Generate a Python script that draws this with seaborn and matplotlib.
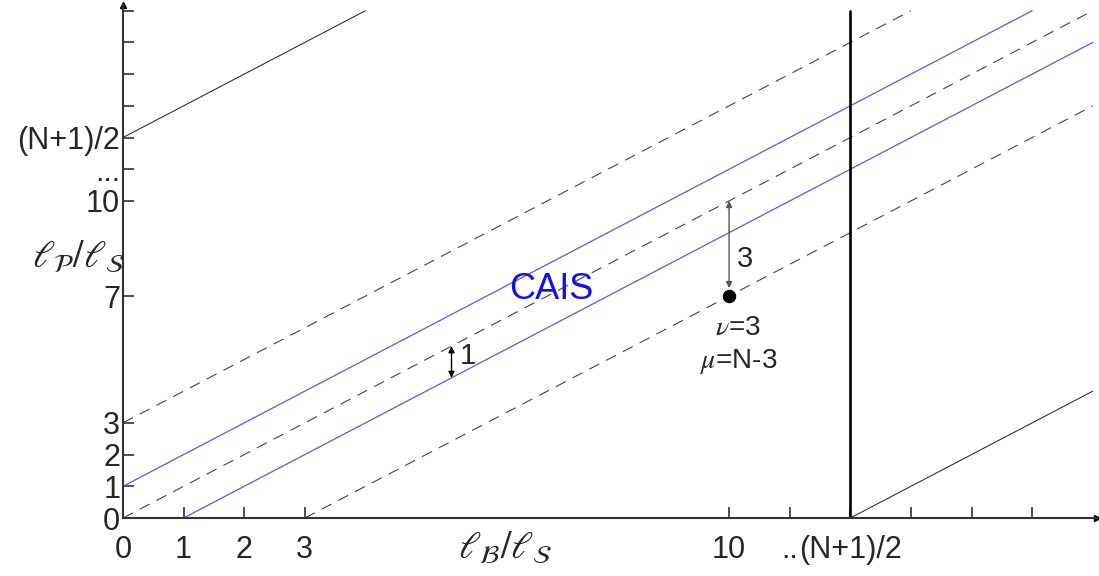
import numpy as np
import pandas as pd
import matplotlib
matplotlib.use("Agg")
import matplotlib.pyplot as plt
import seaborn as sns

# ===============================
# DATA
# ===============================
# lines y = x + offset, drawn between x_start and x_end
line_offset = [1, -1, 3, 0, -3, 12, -12]
line_x_start = [0, 1, 0, 0, 3, 0, 12]
line_x_end = [15, 16, 13, 16, 16, 4, 16]
line_kind = ["cais", "cais", "dash", "dash", "dash", "edge", "edge"]

half_n = 12          # (N+1)/2
axis_max = 16

point_x = [10]
point_y = [7]

x_ticks = [0, 1, 2, 3, 10, 11, 12, 13, 14, 15]
x_tick_labels = ["0", "1", "2", "3", "10", "..", "(N+1)/2", "", "", ""]
y_ticks = [0, 1, 2, 3, 7, 10, 11, 12, 13, 14, 15, 16]
y_tick_labels = ["0", "1", "2", "3", "7", "10", "...", "(N+1)/2", "", "", "", ""]

arrow3_x, arrow3_from, arrow3_to = 10, 10, 7.25
arrow1_x = 5.42

# ===============================
# STYLE
# ===============================
sns.set_style("white")
plt.rcParams["font.family"] = ["Liberation Sans", "DejaVu Sans"]
plt.rcParams["mathtext.fontset"] = "stix"

styles = {
    "cais": dict(color="#5a5ae6", lw=0.9, ls="-"),
    "dash": dict(color="#444444", lw=0.8, ls=(0, (10, 7))),
    "edge": dict(color="#333333", lw=0.8, ls="-"),
}

fig = plt.figure(figsize=(10.99, 5.76), dpi=100)
ax = fig.add_axes([123 / 1099, 58 / 576, 974 / 1099, 513 / 576])

rows = []
for i, (c, x0, x1, k) in enumerate(zip(line_offset, line_x_start, line_x_end, line_kind)):
    rows.append(dict(line=i, x=x0, y=x0 + c, kind=k))
    rows.append(dict(line=i, x=x1, y=x1 + c, kind=k))
df = pd.DataFrame(rows)

for i, sub in df.groupby("line"):
    st = styles[sub["kind"].iloc[0]]
    sns.lineplot(data=sub, x="x", y="y", ax=ax, color=st["color"], estimator=None,
                 linewidth=st["lw"], linestyle=st["ls"], clip_on=False)

# vertical line at (N+1)/2
sns.lineplot(x=[half_n, half_n], y=[0, axis_max], ax=ax, color="black", linewidth=1.9,
             estimator=None, sort=False)

sns.scatterplot(x=point_x, y=point_y, ax=ax, color="black", s=80, zorder=5, edgecolor="black")

ax.set_xlim(0, 16.07)
ax.set_ylim(0, 16.18)

ax.set_xticks(x_ticks)
ax.set_xticklabels(x_tick_labels, fontsize=22)
ax.set_yticks(y_ticks)
ax.set_yticklabels(y_tick_labels, fontsize=22)
ax.tick_params(axis="both", direction="in", length=8, width=1.2, color="#333333",
               bottom=True, left=True)
ax.tick_params(axis="x", pad=12)
ax.tick_params(axis="y", pad=2)
ax.set_xlabel("")
ax.set_ylabel("")

for s in ["top", "right"]:
    ax.spines[s].set_visible(False)
for s in ["left", "bottom"]:
    ax.spines[s].set_color("#333333")
    ax.spines[s].set_linewidth(1.5)

# axis arrow heads
ax.plot(1, 0, ">", color="black", ms=5, transform=ax.transAxes, clip_on=False)
ax.plot(0, 1, "^", color="black", ms=5, transform=ax.transAxes, clip_on=False)

# annotations
ax.annotate("", xy=(arrow3_x, arrow3_to), xytext=(arrow3_x, arrow3_from),
            arrowprops=dict(arrowstyle="<|-|>", color="#555555", lw=1, mutation_scale=9,
                            shrinkA=0, shrinkB=0))
ax.annotate("", xy=(arrow1_x, arrow1_x - 1), xytext=(arrow1_x, arrow1_x),
            arrowprops=dict(arrowstyle="<|-|>", color="black", lw=1, mutation_scale=9,
                            shrinkA=0, shrinkB=0))

ax.text(10.13, 8.17, "3", fontsize=21, ha="left", va="center")
ax.text(5.56, 5.1, "1", fontsize=21, ha="left", va="center")
ax.text(7.06, 7.2, "CAIS", fontsize=26, color="#1010ee", ha="center", va="center")
ax.text(10.15, 6.0, r"$\nu$=3", fontsize=20, ha="center", va="center")
ax.text(10.15, 4.95, r"$\mu$=N-3", fontsize=20, ha="center", va="center")

ax.text(6.3, -0.95, r"$\ell_{\mathcal{B}}/\ell_{\mathcal{S}}$", fontsize=27,
        ha="center", va="center", clip_on=False)
ax.text(-0.74, 8.2, r"$\ell_{\mathcal{P}}/\ell_{\mathcal{S}}$", fontsize=27,
        ha="center", va="center", clip_on=False)

fig.savefig("out.png", dpi=100)
